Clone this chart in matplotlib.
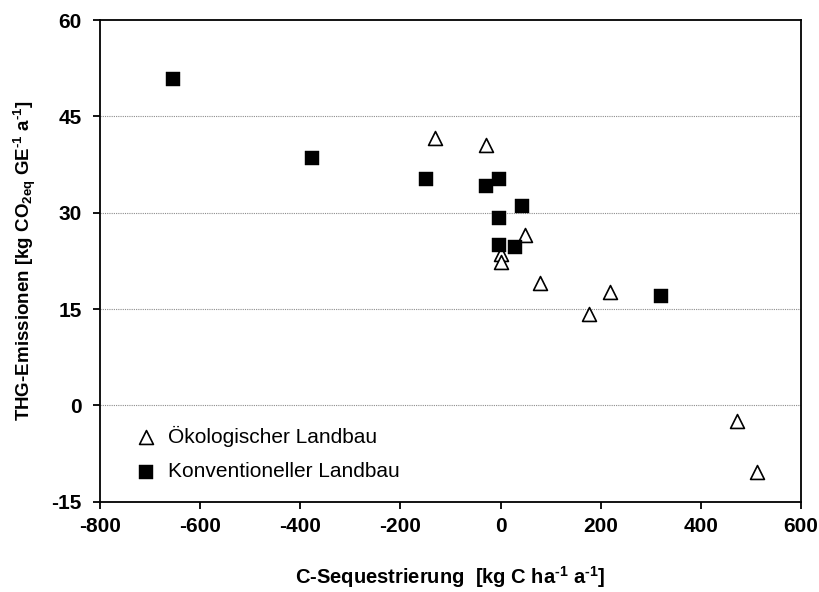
import matplotlib
matplotlib.use("Agg")
from matplotlib import pyplot as plt

# Konventioneller Landbau (filled squares)
konv_x = [-654, -376, -149, -3, -30, 42, -3, -3, 28, 320]
konv_y = [50.8, 38.5, 35.3, 35.3, 34.2, 31.0, 29.2, 24.9, 24.6, 17.1]

# Oekologischer Landbau (open triangles)
oeko_x = [-131, -30, 49, 0, 1, 79, 218, 177, 473, 513]
oko_y = [41.7, 40.6, 26.6, 23.6, 22.3, 19.1, 17.7, 14.3, -2.4, -10.4]

x_ticks = [-800, -600, -400, -200, 0, 200, 400, 600]
y_ticks = [-15, 0, 15, 30, 45, 60]

plt.rcParams['font.family'] = ['Liberation Sans', 'DejaVu Sans']
plt.rcParams['axes.unicode_minus'] = False
plt.rcParams['mathtext.fontset'] = 'custom'
plt.rcParams['mathtext.rm'] = 'Liberation Sans:bold'
plt.rcParams['mathtext.bf'] = 'Liberation Sans:bold'
plt.rcParams['mathtext.default'] = 'bf'

fig = plt.figure(figsize=(8.19, 5.92), dpi=100)
ax = fig.add_axes([0.1221, 0.1525, 0.978 - 0.1221, 0.9662 - 0.1525])

# grid lines
for yv in y_ticks[1:-1]:
    ax.axhline(yv, color='#8c8c8c', linewidth=0.8, linestyle=(0, (1, 1)), zorder=1)

ax.scatter(oeko_x, oko_y, marker='^', s=10 ** 2, facecolor='white',
           edgecolor='black', linewidth=1.2, zorder=3, label='Ökologischer Landbau')
ax.scatter(konv_x, konv_y, marker='s', s=9.4 ** 2, facecolor='black',
           edgecolor='black', linewidth=0.3, zorder=4, label='Konventioneller Landbau')

ax.set_xlim(-800, 600)
ax.set_ylim(-15, 60)
ax.set_xticks(x_ticks)
ax.set_yticks(y_ticks)
ax.tick_params(direction='out', length=5, width=1.3, labelsize=15)
ax.tick_params(axis='y', pad=8)
ax.tick_params(axis='x', pad=6)
for lbl in ax.get_xticklabels() + ax.get_yticklabels():
    lbl.set_fontweight('bold')
for sp in ax.spines.values():
    sp.set_linewidth(1.3)

ax.set_xlabel(r'C-Sequestrierung  [kg C ha$^{\text{-1}}$ a$^{\text{-1}}$]', fontsize=14.5,
              fontweight='bold', labelpad=20)
ax.set_ylabel(r'THG-Emissionen [kg CO$_{2\text{eq}}$ GE$^{\text{-1}}$ a$^{\text{-1}}$]',
              fontsize=13.5, fontweight='bold', labelpad=10)

ax.legend(loc='upper left', bbox_to_anchor=(0.036, 0.175), frameon=False,
          fontsize=15, handlelength=1.2, handletextpad=0.45, labelspacing=0.75,
          borderaxespad=0)

fig.savefig('out.png', dpi=100)
